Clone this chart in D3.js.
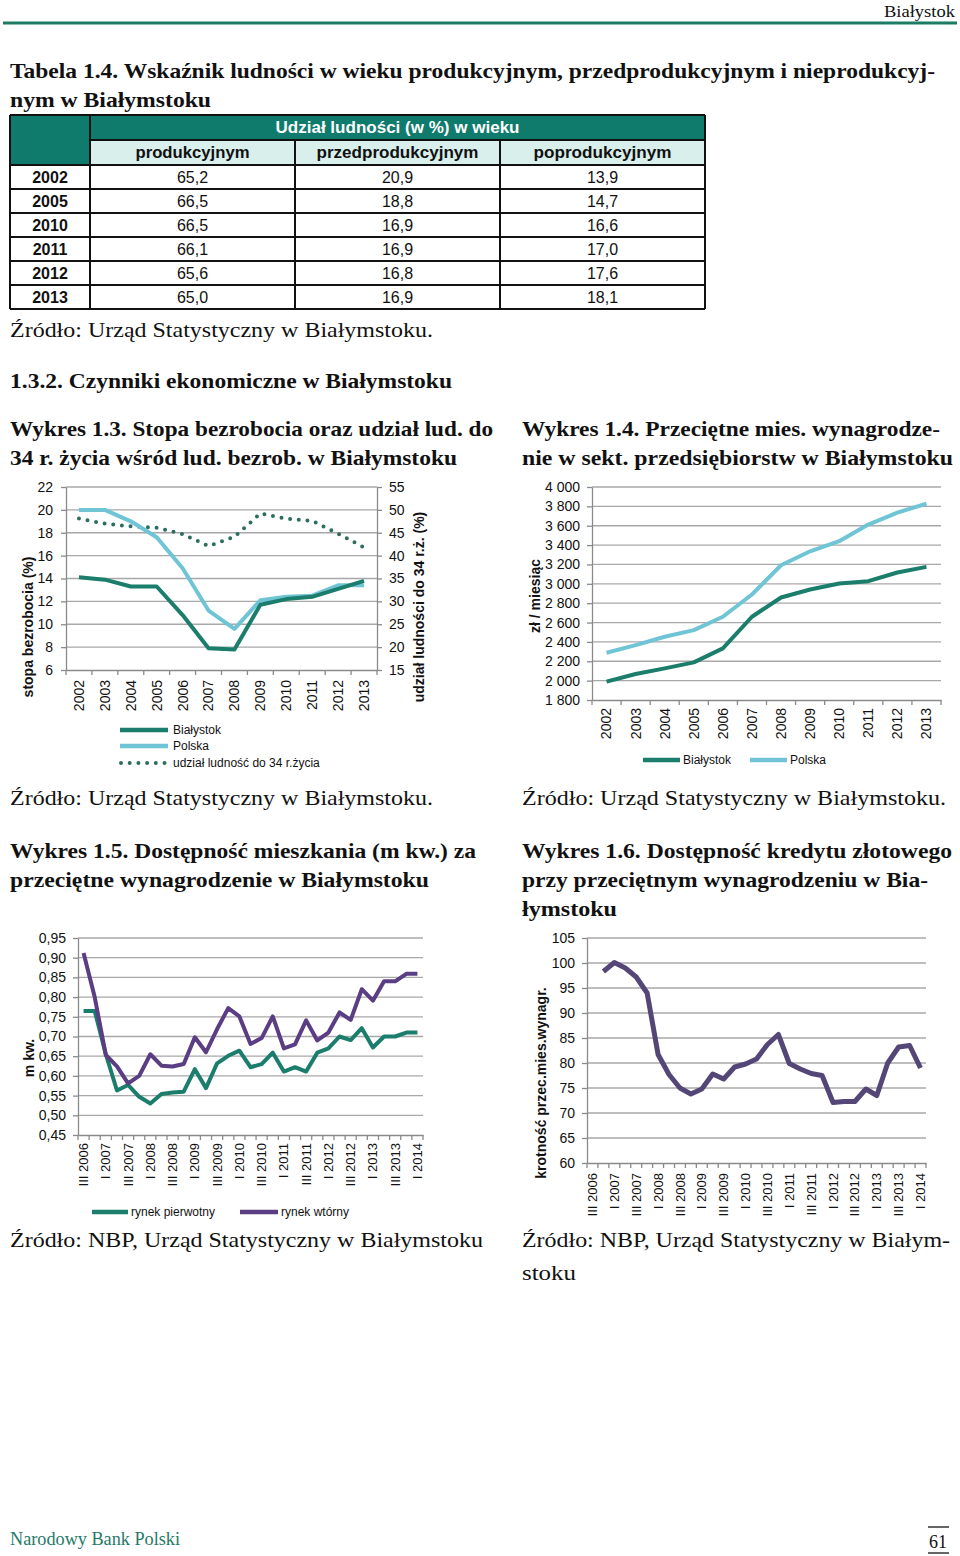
<!DOCTYPE html>
<html><head><meta charset="utf-8">
<script src="https://cdn.jsdelivr.net/npm/d3@7"></script>
<style>body{margin:0;background:#fff}svg{display:block}</style>
</head><body><svg id="c" width="960" height="1556"></svg>
<script>
// ---------------- DATA ----------------
const tableYears = ["2002","2005","2010","2011","2012","2013"];
const tableColumns = ["produkcyjnym","przedprodukcyjnym","poprodukcyjnym"];
const shareProductive = [65.2,66.5,66.5,66.1,65.6,65.0];
const sharePreProductive = [20.9,18.8,16.9,16.9,16.8,16.9];
const sharePostProductive = [13.9,14.7,16.6,17.0,17.6,18.1];

const years = ["2002","2003","2004","2005","2006","2007","2008","2009","2010","2011","2012","2013"];
const unempBialystok = [14.1,13.9,13.3,13.3,10.8,7.9,7.8,11.7,12.2,12.4,13.1,13.8];
const unempPolska    = [20.0,20.0,19.0,17.6,14.9,11.2,9.6,12.1,12.4,12.5,13.4,13.4];
const youngShare     = [48.1,47.0,46.4,46.1,44.7,42.1,44.1,49.2,48.1,47.6,44.8,41.8];
const unempTicks = [6,8,10,12,14,16,18,20,22];
const youngTicks = [15,20,25,30,35,40,45,50,55];

const wageBialystok = [1990,2068,2127,2189,2333,2660,2859,2941,3003,3027,3117,3175];
const wagePolska    = [2288,2367,2453,2522,2660,2890,3192,3336,3440,3612,3735,3828];
const wageTicks = [1800,2000,2200,2400,2600,2800,3000,3200,3400,3600,3800,4000];

const quarters = ["III 2006","IV 2006","I 2007","II 2007","III 2007","IV 2007","I 2008","II 2008","III 2008","IV 2008",
  "I 2009","II 2009","III 2009","IV 2009","I 2010","II 2010","III 2010","IV 2010","I 2011","II 2011","III 2011","IV 2011",
  "I 2012","II 2012","III 2012","IV 2012","I 2013","II 2013","III 2013","IV 2013","I 2014"];
const housingPrimary = [0.765,0.765,0.655,0.563,0.577,0.547,0.530,0.554,0.558,0.560,0.617,0.569,0.632,0.651,0.664,0.622,
  0.630,0.659,0.611,0.622,0.611,0.659,0.670,0.700,0.691,0.721,0.672,0.700,0.700,0.710,0.710];
const housingSecondary = [0.912,0.800,0.653,0.624,0.581,0.600,0.655,0.626,0.624,0.630,0.698,0.660,0.719,0.772,0.751,0.681,
  0.696,0.751,0.670,0.680,0.741,0.690,0.710,0.761,0.742,0.820,0.791,0.840,0.840,0.859,0.859];
const housingTicks = [0.45,0.50,0.55,0.60,0.65,0.70,0.75,0.80,0.85,0.90,0.95];

const creditMultiple = [null,98.3,100.1,99.0,97.2,94.0,81.7,77.7,75.0,73.8,74.8,77.8,76.8,79.2,79.8,80.8,
  83.7,85.7,79.9,78.8,77.9,77.5,72.1,72.3,72.3,74.8,73.5,80.0,83.2,83.5,79.0];
const creditTicks = [60,65,70,75,80,85,90,95,100,105];

// ---------------- SETUP ----------------
const svg = d3.select("#c");
svg.append("rect").attr("width",960).attr("height",1556).attr("fill","#fff");
const SERIF = "'Liberation Serif','Times New Roman',serif";
const SANS = "'Liberation Sans',Arial,sans-serif";
const TEAL = "#1b7d6c", LIGHT = "#6fc4d6", PURPLE = "#5b3d83", PURPLE2 = "#544778", GRID = "#a8a8a8";
const loc = d3.formatLocale({decimal:",", thousands:"\u00a0", grouping:[3], currency:["",""]});
const f1 = loc.format(".1f"), f2 = loc.format(".2f"), f0 = loc.format(",.0f"), fi = loc.format("d");

function T(x,y,s,o={}) {
  const t = svg.append("text").attr("x",x).attr("y",y).text(s)
    .attr("font-family", o.family||SERIF).attr("font-size", o.size||21)
    .attr("font-weight", o.weight||"normal").attr("fill", o.fill||"#111")
    .attr("text-anchor", o.anchor||"start");
  if (o.w) t.attr("textLength", o.w).attr("lengthAdjust","spacingAndGlyphs");
  if (o.rot) t.attr("transform", `rotate(${o.rot},${x},${y})`);
  return t;
}

// ---------------- PAGE TEXT ----------------
T(955,17,"Białystok",{size:17,anchor:"end",w:71});
svg.append("line").attr("x1",3).attr("x2",957).attr("y1",23).attr("y2",23).attr("stroke","#1d7a63").attr("stroke-width",3);
T(10,78,"Tabela 1.4. Wskaźnik ludności w wieku produkcyjnym, przedprodukcyjnym i nieprodukcyj-",{weight:"bold",w:925});
T(10,107,"nym w Białymstoku",{weight:"bold",w:201});
T(10,337,"Źródło: Urząd Statystyczny w Białymstoku.",{w:423});
T(10,388,"1.3.2. Czynniki ekonomiczne w Białymstoku",{weight:"bold",w:442});
T(10,436,"Wykres 1.3. Stopa bezrobocia oraz udział lud. do",{weight:"bold",w:483});
T(10,465,"34 r. życia wśród lud. bezrob. w Białymstoku",{weight:"bold",w:447});
T(522,436,"Wykres 1.4. Przeciętne mies. wynagrodze-",{weight:"bold",w:418});
T(522,465,"nie w sekt. przedsiębiorstw w Białymstoku",{weight:"bold",w:431});
T(10,805,"Źródło: Urząd Statystyczny w Białymstoku.",{w:423});
T(522,805,"Źródło: Urząd Statystyczny w Białymstoku.",{w:424});
T(10,858,"Wykres 1.5. Dostępność mieszkania (m kw.) za",{weight:"bold",w:466});
T(10,887,"przeciętne wynagrodzenie w Białymstoku",{weight:"bold",w:419});
T(522,858,"Wykres 1.6. Dostępność kredytu złotowego",{weight:"bold",w:430});
T(522,887,"przy przeciętnym wynagrodzeniu w Bia-",{weight:"bold",w:406});
T(522,916,"łymstoku",{weight:"bold",w:95});
T(10,1247,"Źródło: NBP, Urząd Statystyczny w Białymstoku",{w:473});
T(522,1247,"Źródło: NBP, Urząd Statystyczny w Białym-",{w:428});
T(522,1280,"stoku",{w:54});
T(10,1545,"Narodowy Bank Polski",{size:18,fill:"#1f7a68",w:170});
T(938,1548,"61",{size:18,anchor:"middle"});
[1527,1553].forEach(yy=>svg.append("line").attr("x1",928).attr("x2",949).attr("y1",yy).attr("y2",yy).attr("stroke","#333").attr("stroke-width",1.5));

// ---------------- TABLE ----------------
(function(){
  const g = svg.append("g");
  const colX = [10,90,295,500,705];
  const top = 115, h1 = 25, h2 = 25, rh = 24;
  const rowsTop = top+h1+h2;
  const bottom = rowsTop + rh*tableYears.length;
  g.append("rect").attr("x",colX[0]).attr("y",top).attr("width",colX[4]-colX[0]).attr("height",h1).attr("fill","#0f7b6c");
  g.append("rect").attr("x",colX[0]).attr("y",top+h1).attr("width",colX[1]-colX[0]).attr("height",h2).attr("fill","#0f7b6c");
  g.append("rect").attr("x",colX[1]).attr("y",top+h1).attr("width",colX[4]-colX[1]).attr("height",h2).attr("fill","#d8efec");
  const L = (x1,y1,x2,y2)=>g.append("line").attr("x1",x1).attr("y1",y1).attr("x2",x2).attr("y2",y2).attr("stroke","#111").attr("stroke-width",2);
  L(colX[0],top,colX[4],top); L(colX[0],bottom,colX[4],bottom);
  L(colX[0],top,colX[0],bottom); L(colX[4],top,colX[4],bottom);
  L(colX[1],top,colX[1],bottom);
  L(colX[2],top+h1,colX[2],bottom); L(colX[3],top+h1,colX[3],bottom);
  L(colX[1],top+h1,colX[4],top+h1);
  for (let i=0;i<=tableYears.length;i++) L(colX[0],rowsTop+i*rh,colX[4],rowsTop+i*rh);
  T((colX[1]+colX[4])/2, top+18, "Udział ludności (w %) w wieku",{family:SANS,size:16,weight:"bold",fill:"#fff",anchor:"middle",w:244});
  const hw = [114,162,138];
  tableColumns.forEach((c,i)=>T((colX[i+1]+colX[i+2])/2, top+h1+18, c,{family:SANS,size:16,weight:"bold",anchor:"middle",w:hw[i]}));
  const cols = [shareProductive, sharePreProductive, sharePostProductive];
  tableYears.forEach((yv,r)=>{
    const yy = rowsTop + r*rh + 18;
    T((colX[0]+colX[1])/2, yy, yv,{family:SANS,size:16,weight:"bold",anchor:"middle"});
    cols.forEach((arr,i)=>T((colX[i+1]+colX[i+2])/2, yy, f1(arr[r]),{family:SANS,size:16,anchor:"middle"}));
  });
})();

// ---------------- CHART HELPER ----------------
function chart(c) {
  const g = svg.append("g");
  const x = d3.scaleBand().domain(c.cats).range([c.x0,c.x1]);
  const y = d3.scaleLinear().domain(c.yDomain).range([c.yB,c.yT]);
  const cx = d => x(d) + x.bandwidth()/2;
  g.append("g").selectAll("line").data(c.yTicks.filter(v=>v!==c.yDomain[0])).join("line")
    .attr("x1",c.x0).attr("x2",c.x1).attr("y1",d=>y(d)).attr("y2",d=>y(d))
    .attr("stroke",GRID).attr("stroke-width",1.3);
  const styleAxis = sel => {
    sel.select(".domain").attr("stroke","#8a8a8a").attr("stroke-width",1.3);
    sel.selectAll(".tick line").attr("stroke","#8a8a8a").attr("stroke-width",1.3);
    sel.selectAll("text").attr("font-family",SANS).attr("fill","#111");
  };
  const ga = g.append("g").attr("transform",`translate(${c.x0},0)`)
    .call(d3.axisLeft(y).tickValues(c.yTicks).tickFormat(c.yFmt).tickSize(5).tickSizeOuter(0).tickPadding(c.padL||7));
  styleAxis(ga); ga.selectAll("text").attr("font-size",14);
  let y2 = null;
  if (c.y2Domain) {
    y2 = d3.scaleLinear().domain(c.y2Domain).range([c.yB,c.yT]);
    const gr = g.append("g").attr("transform",`translate(${c.x1},0)`)
      .call(d3.axisRight(y2).tickValues(c.y2Ticks).tickFormat(fi).tickSize(5).tickSizeOuter(0).tickPadding(7));
    styleAxis(gr); gr.selectAll("text").attr("font-size",14);
  }
  const gb = g.append("g").attr("transform",`translate(0,${c.yB})`)
    .call(d3.axisBottom(x).tickValues(c.labelCats||c.cats).tickSize(0).tickSizeOuter(0));
  styleAxis(gb);
  gb.selectAll(".tick text").attr("transform","rotate(-90)").attr("text-anchor","end")
    .attr("x",-c.labOff).attr("y",0).attr("dy","0.35em").attr("font-size",c.labSize);
  g.append("g").selectAll("line").data(d3.range(c.cats.length+1)).join("line")
    .attr("x1",i=>c.x0+i*x.step()).attr("x2",i=>c.x0+i*x.step())
    .attr("y1",c.yB).attr("y2",c.yB+5).attr("stroke","#8a8a8a").attr("stroke-width",1.3);
  c.series.forEach(s=>{
    const sc = s.right ? y2 : y;
    const line = d3.line().defined(d=>d!=null).x((d,i)=>cx(c.cats[i])).y(d=>sc(d));
    const p = g.append("path").datum(s.values).attr("d",line).attr("fill","none")
      .attr("stroke",s.color).attr("stroke-width",s.width||4).attr("stroke-linejoin","round");
    if (s.dots) p.attr("stroke-dasharray","0 8.7").attr("stroke-linecap","round");
  });
  return {x,y,g};
}

function legendLine(x1,x2,y,color,dots,width) {
  const l = svg.append("line").attr("x1",x1).attr("x2",x2).attr("y1",y).attr("y2",y)
    .attr("stroke",color).attr("stroke-width",width||4.5);
  if (dots) l.attr("stroke-dasharray","0 8.7").attr("stroke-linecap","round");
}

// ---------------- WYKRES 1.3 ----------------
chart({x0:66,x1:377,yT:487,yB:670,cats:years,yDomain:[6,22],yTicks:unempTicks,yFmt:fi,padL:8,
  y2Domain:[15,55],y2Ticks:youngTicks,labOff:10,labSize:14,
  series:[{values:youngShare,color:"#2b6e60",dots:true,right:true,width:4},
          {values:unempPolska,color:LIGHT},
          {values:unempBialystok,color:TEAL}]});
T(33,627,"stopa  bezrobocia (%)",{family:SANS,size:14,weight:"bold",anchor:"middle",rot:-90});
T(424,607,"udział ludności do 34 r.ż. (%)",{family:SANS,size:14,weight:"bold",anchor:"middle",rot:-90});
legendLine(120,168,730,TEAL); T(173,734,"Białystok",{family:SANS,size:12});
legendLine(120,168,746,LIGHT); T(173,750,"Polska",{family:SANS,size:12});
legendLine(121,165,763,"#2b6e60",true,4); T(173,767,"udział ludność do 34 r.życia",{family:SANS,size:12});

// ---------------- WYKRES 1.4 ----------------
chart({x0:592,x1:941,yT:487,yB:700,cats:years,yDomain:[1800,4000],yTicks:wageTicks,yFmt:f0,
  labOff:8,labSize:14,
  series:[{values:wagePolska,color:LIGHT},{values:wageBialystok,color:TEAL}]});
T(540,596,"zł / miesiąc",{family:SANS,size:14,weight:"bold",anchor:"middle",rot:-90});
legendLine(643,680,760,TEAL); T(683,764,"Białystok",{family:SANS,size:12});
legendLine(750,787,760,LIGHT); T(790,764,"Polska",{family:SANS,size:12});

// ---------------- WYKRES 1.5 ----------------
chart({x0:78,x1:423,yT:938,yB:1135,cats:quarters,labelCats:quarters.filter((d,i)=>i%2===0),
  yDomain:[0.45,0.95],yTicks:housingTicks,yFmt:f2,labOff:8,labSize:13,
  series:[{values:housingPrimary,color:TEAL},{values:housingSecondary,color:PURPLE}]});
T(34,1058,"m kw.",{family:SANS,size:14,weight:"bold",anchor:"middle",rot:-90});
legendLine(92,128,1212,TEAL); T(131,1216,"rynek pierwotny",{family:SANS,size:12});
legendLine(240,278,1212,PURPLE); T(281,1216,"rynek wtórny",{family:SANS,size:12});

// ---------------- WYKRES 1.6 ----------------
chart({x0:587,x1:926,yT:938,yB:1163,cats:quarters,labelCats:quarters.filter((d,i)=>i%2===0),
  yDomain:[60,105],yTicks:creditTicks,yFmt:fi,labOff:10,labSize:13,
  series:[{values:creditMultiple,color:PURPLE2,width:5}]});
T(546,1083,"krotność przec.mies.wynagr.",{family:SANS,size:14,weight:"bold",anchor:"middle",rot:-90});
</script></body></html>
